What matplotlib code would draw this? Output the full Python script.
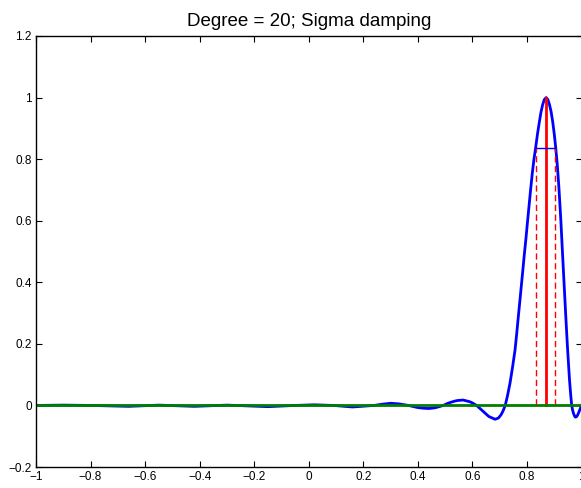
import matplotlib
matplotlib.use("Agg")
import matplotlib.pyplot as plt
from matplotlib.ticker import FuncFormatter

plt.rcParams['font.family'] = ['Liberation Sans', 'DejaVu Sans']

# damped kernel curve
x_curve = [-1.00, -0.90, -0.80, -0.66, -0.55, -0.42, -0.30, -0.15, -0.05,
           0.02, 0.09, 0.16, 0.24, 0.27, 0.30, 0.33, 0.365, 0.40, 0.42, 0.44,
           0.46, 0.47, 0.493, 0.51, 0.52, 0.535, 0.545, 0.566, 0.59, 0.60,
           0.615, 0.64, 0.66, 0.683, 0.695, 0.705, 0.712,
           0.720, 0.728, 0.7375, 0.747, 0.756, 0.762, 0.768, 0.774, 0.780,
           0.785, 0.790, 0.796, 0.801, 0.807, 0.813, 0.819, 0.825, 0.832,
           0.838, 0.845, 0.851, 0.857, 0.863, 0.870, 0.876, 0.882, 0.888,
           0.894, 0.900, 0.905, 0.911, 0.917, 0.924, 0.930, 0.936, 0.942,
           0.948, 0.952, 0.9555, 0.960, 0.9637, 0.967, 0.970, 0.974, 0.977,
           0.981, 0.985, 0.989, 0.993, 0.997, 1.000]
y_curve = [0.000, 0.001, 0.000, -0.003, 0.001, -0.003, 0.001, -0.004, 0.000,
           0.002, 0.000, -0.005, 0.000, 0.004, 0.007, 0.005, 0.000, -0.007, -0.009, -0.010,
           -0.008, -0.006, 0.000, 0.007, 0.010, 0.014, 0.016, 0.0175, 0.012, 0.008,
           0.000, -0.020, -0.036, -0.045, -0.041, -0.030, -0.018,
           0.000, 0.030, 0.072, 0.125, 0.180, 0.232, 0.288, 0.342, 0.397,
           0.443, 0.490, 0.542, 0.590, 0.645, 0.700, 0.752, 0.797, 0.840,
           0.880, 0.920, 0.952, 0.976, 0.993, 1.000, 0.994, 0.978, 0.955,
           0.922, 0.880, 0.838, 0.780, 0.705, 0.600, 0.495, 0.392, 0.290,
           0.192, 0.135, 0.085, 0.035, 0.000, -0.015, -0.025, -0.034, -0.038,
           -0.037, -0.032, -0.024, -0.015, -0.006, 0.000]

center = 0.87
half_left = 0.834
half_right = 0.901
half_level = 0.835

x_ticks = [-1, -0.8, -0.6, -0.4, -0.2, 0, 0.2, 0.4, 0.6, 0.8, 1]
y_ticks = [-0.2, 0, 0.2, 0.4, 0.6, 0.8, 1, 1.2]

fig = plt.figure(figsize=(5.81, 4.88), dpi=100)
ax = fig.add_axes([36/581, 21/488, 545.6/581, 431/488])

ax.plot(x_curve, y_curve, color='b', lw=2)
ax.plot([center, center], [0, 1], color='r', lw=2)
ax.plot([half_left, half_left], [0, half_level], color='r', lw=1, dashes=(4.5, 2.5))
ax.plot([half_right, half_right], [0, half_level], color='r', lw=1, dashes=(4.5, 2.5))
ax.plot([half_left, half_right], [half_level, half_level], color='b', lw=1)
ax.plot([-1, 1], [0, 0], color=(0, 0.5, 0), lw=2)

ax.set_xlim(-1, 1)
ax.set_ylim(-0.2, 1.2)
ax.set_xticks(x_ticks)
ax.set_yticks(y_ticks)
fmt = FuncFormatter(lambda v, p: ('%g' % round(v, 2)).replace('-', '\u2212'))
ax.xaxis.set_major_formatter(fmt)
ax.yaxis.set_major_formatter(fmt)
ax.tick_params(direction='in', top=True, right=True, length=4, width=0.8,
               labelsize=8.5, pad=3)
for s in ax.spines.values():
    s.set_linewidth(1)
ax.set_title('Degree = 20; Sigma damping', fontsize=13.5, pad=7.5)

fig.savefig('out.png', dpi=100)
